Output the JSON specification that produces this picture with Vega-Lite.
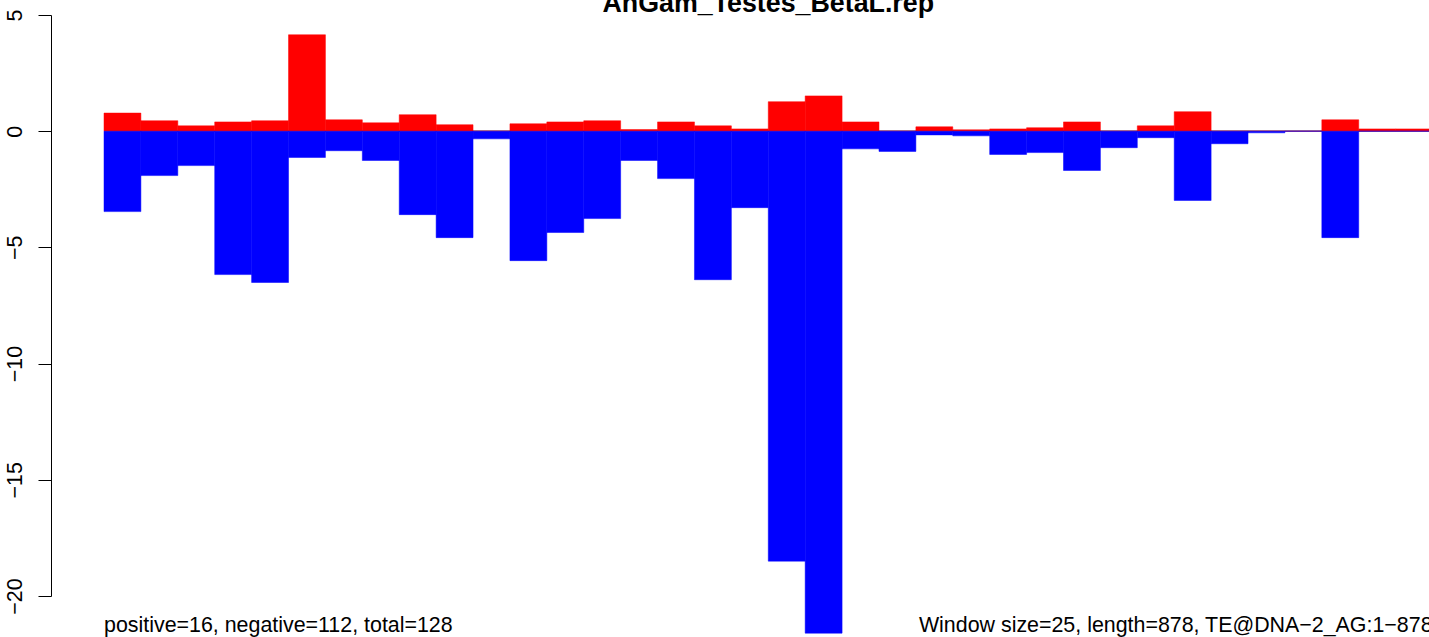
{
  "$schema": "https://vega.github.io/schema/vega-lite/v6.json",
  "width": 1325,
  "height": 581,
  "autosize": "none",
  "padding": {"left": 104, "top": 15, "right": 0, "bottom": 41},
  "background": "white",
  "config": {
    "view": {"stroke": null},
    "font": "Liberation Sans",
    "axisY": {
      "offset": 53,
      "grid": false,
      "domainColor": "black",
      "domainWidth": 1,
      "tickColor": "black",
      "tickWidth": 1,
      "tickSize": 13,
      "labelAngle": -90,
      "labelAlign": "center",
      "labelBaseline": "alphabetic",
      "labelPadding": 17,
      "labelFont": "Liberation Sans",
      "labelFontSize": 21.4,
      "labelColor": "black",
      "labelFlush": false,
      "labelOverlap": false
    }
  },
  "datasets": {
    "bars": [
      {"start": 0, "end": 25, "pos": 0.78, "neg": -3.46},
      {"start": 25, "end": 50, "pos": 0.45, "neg": -1.91},
      {"start": 50, "end": 75, "pos": 0.23, "neg": -1.48},
      {"start": 75, "end": 100, "pos": 0.40, "neg": -6.17},
      {"start": 100, "end": 125, "pos": 0.45, "neg": -6.51},
      {"start": 125, "end": 150, "pos": 4.15, "neg": -1.13},
      {"start": 150, "end": 175, "pos": 0.49, "neg": -0.84},
      {"start": 175, "end": 200, "pos": 0.36, "neg": -1.26},
      {"start": 200, "end": 225, "pos": 0.71, "neg": -3.59},
      {"start": 225, "end": 250, "pos": 0.28, "neg": -4.58},
      {"start": 250, "end": 275, "pos": 0, "neg": -0.33},
      {"start": 275, "end": 300, "pos": 0.32, "neg": -5.57},
      {"start": 300, "end": 325, "pos": 0.40, "neg": -4.36},
      {"start": 325, "end": 350, "pos": 0.45, "neg": -3.76},
      {"start": 350, "end": 375, "pos": 0.07, "neg": -1.26},
      {"start": 375, "end": 400, "pos": 0.40, "neg": -2.04},
      {"start": 400, "end": 425, "pos": 0.23, "neg": -6.39},
      {"start": 425, "end": 450, "pos": 0.10, "neg": -3.29},
      {"start": 450, "end": 475, "pos": 1.27, "neg": -18.50},
      {"start": 475, "end": 500, "pos": 1.52, "neg": -21.60},
      {"start": 500, "end": 525, "pos": 0.40, "neg": -0.76},
      {"start": 525, "end": 550, "pos": 0, "neg": -0.87},
      {"start": 550, "end": 575, "pos": 0.19, "neg": -0.16},
      {"start": 575, "end": 600, "pos": 0.06, "neg": -0.20},
      {"start": 600, "end": 625, "pos": 0.10, "neg": -1.00},
      {"start": 625, "end": 650, "pos": 0.15, "neg": -0.92},
      {"start": 650, "end": 675, "pos": 0.40, "neg": -1.69},
      {"start": 675, "end": 700, "pos": 0, "neg": -0.71},
      {"start": 700, "end": 725, "pos": 0.23, "neg": -0.28},
      {"start": 725, "end": 750, "pos": 0.84, "neg": -2.98},
      {"start": 750, "end": 775, "pos": 0, "neg": -0.54},
      {"start": 775, "end": 800, "pos": 0, "neg": -0.07},
      {"start": 800, "end": 825, "pos": 0, "neg": 0},
      {"start": 825, "end": 850, "pos": 0.49, "neg": -4.58},
      {"start": 850, "end": 875, "pos": 0.10, "neg": 0},
      {"start": 875, "end": 900, "pos": 0.10, "neg": 0}
    ],
    "notes": [
      {"title": "AnGam_Testes_BetaL.rep", "left": "positive=16, negative=112, total=128", "right": "Window size=25, length=878, TE@DNA−2_AG:1−878"}
    ]
  },
  "data": {"name": "bars"},
  "layer": [
    {
      "mark": {"type": "rule", "color": "#AAAAAA", "strokeWidth": 1.5},
      "encoding": {
        "y": {"datum": 0, "type": "quantitative",
              "scale": {"domain": [-20, 5], "nice": false, "zero": false},
              "axis": {"title": null, "values": [-20, -15, -10, -5, 0, 5]}}
      }
    },
    {
      "mark": {"type": "bar", "color": "#FF0000", "stroke": "#FF0000", "strokeWidth": 0.5},
      "encoding": {
        "x": {"field": "start", "type": "quantitative", "axis": null,
              "scale": {"domain": [0, 897.6], "nice": false, "zero": false}},
        "x2": {"field": "end"},
        "y": {"field": "pos", "type": "quantitative", "title": null,
              "axis": {"title": null, "values": [-20, -15, -10, -5, 0, 5]}},
        "y2": {"datum": 0}
      }
    },
    {
      "mark": {"type": "bar", "color": "#0000FF", "stroke": "#0000FF", "strokeWidth": 0.5},
      "encoding": {
        "x": {"field": "start", "type": "quantitative", "axis": null},
        "x2": {"field": "end"},
        "y": {"field": "neg", "type": "quantitative", "title": null,
              "axis": {"title": null, "values": [-20, -15, -10, -5, 0, 5]}},
        "y2": {"datum": 0}
      }
    },
    {
      "data": {"name": "notes"},
      "mark": {"type": "text", "align": "center", "baseline": "alphabetic", "fontSize": 26.8, "fontWeight": "bold", "font": "Liberation Sans", "color": "black"},
      "encoding": {
        "x": {"datum": 450, "type": "quantitative", "axis": null},
        "y": {"datum": 5.15, "type": "quantitative", "title": null,
              "axis": {"title": null, "values": [-20, -15, -10, -5, 0, 5]}},
        "text": {"field": "title"}
      }
    },
    {
      "data": {"name": "notes"},
      "mark": {"type": "text", "align": "left", "baseline": "alphabetic", "fontSize": 21.4, "font": "Liberation Sans", "color": "black"},
      "encoding": {
        "x": {"datum": 0, "type": "quantitative", "axis": null},
        "y": {"datum": -21.57, "type": "quantitative", "title": null,
              "axis": {"title": null, "values": [-20, -15, -10, -5, 0, 5]}},
        "text": {"field": "left"}
      }
    },
    {
      "data": {"name": "notes"},
      "mark": {"type": "text", "align": "right", "baseline": "alphabetic", "fontSize": 21.4, "font": "Liberation Sans", "color": "black"},
      "encoding": {
        "x": {"datum": 900, "type": "quantitative", "axis": null},
        "y": {"datum": -21.57, "type": "quantitative", "title": null,
              "axis": {"title": null, "values": [-20, -15, -10, -5, 0, 5]}},
        "text": {"field": "right"}
      }
    }
  ]
}
